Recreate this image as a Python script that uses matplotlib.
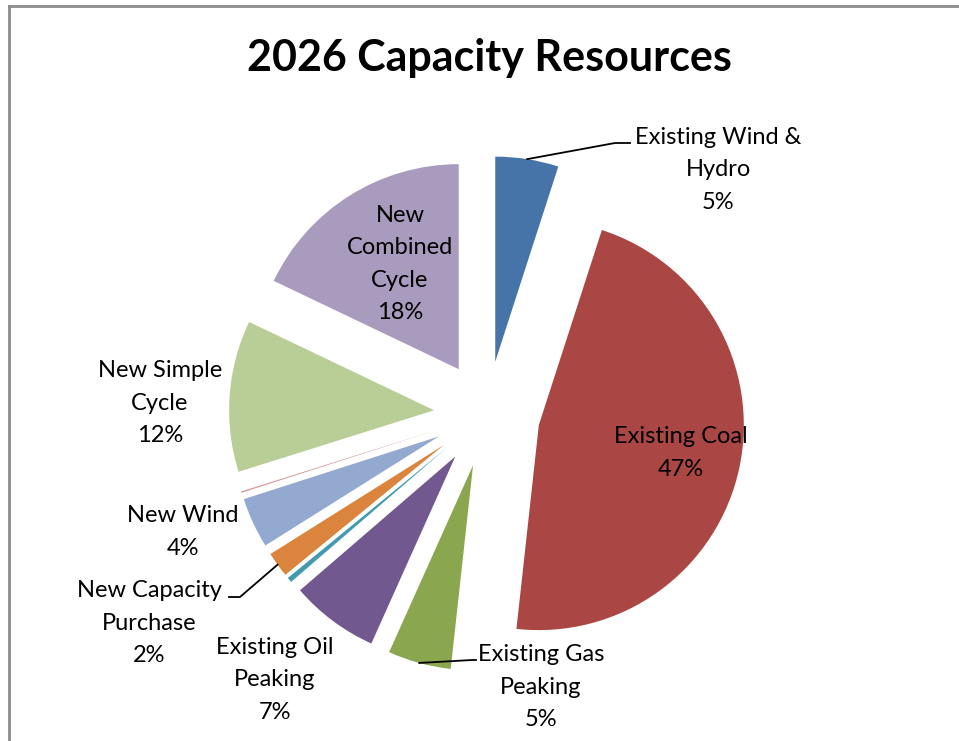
import numpy as np
import matplotlib.pyplot as plt

plt.rcParams['font.family'] = ['Lato', 'DejaVu Sans']

# capacity shares, clockwise from 12 o'clock
names = ['Existing Wind &\nHydro', 'Existing Coal', 'Existing Gas\nPeaking',
         'Existing Oil\nPeaking', 'Existing Other', 'New Capacity\nPurchase',
         'New Wind', 'New Other', 'New Simple\nCycle', 'New\nCombined\nCycle']
values = [5.0, 47.0, 5.0, 7.0, 0.4, 2.0, 4.0, 0.1, 12.0, 18.0]
colors = ['#4674A9', '#AA4744', '#8AA64F', '#71588F', '#4299B0', '#DB843D',
          '#93A9CF', '#D19392', '#B9CD96', '#A99BBD']
show_label = [True, True, True, True, False, True, True, False, True, True]

W, H = 959, 741
fig = plt.figure(figsize=(W / 100, H / 100), dpi=100)
ax = fig.add_axes([0, 0, 1, 1])

R = 205
cx, cy = 487, H - 414
wedges, _ = ax.pie(values, colors=colors, startangle=90, counterclock=False,
                   explode=[53] * len(values), radius=R, center=(cx, cy),
                   wedgeprops=dict(linewidth=0))
ax.set_xlim(0, W)
ax.set_ylim(0, H)
ax.set_aspect('equal')
ax.axis('off')

total = sum(values)
pct = [f'{v / total * 100:.0f}%' for v in values]

# label positions in pixels (x, y from top), optional leader elbow
lab_pos = {0: (718, 170), 1: (681, 453), 2: (541, 687), 3: (275, 680),
           5: (149, 623), 6: (183, 532), 8: (160, 403), 9: (400, 264)}
leaders = {0: [(615, 143), (630, 143)],
           2: [(472, 660), (476, 660)],
           5: [(240, 597), (229, 597)]}

for i, w in enumerate(wedges):
    if not show_label[i]:
        continue
    x, y = lab_pos[i]
    ax.text(x, H - y, names[i] + '\n' + pct[i], ha='center', va='center',
            fontsize=17, linespacing=1.65, color='black')
    if i in leaders:
        mid = np.deg2rad((w.theta1 + w.theta2) / 2)
        wx, wy = w.center
        pts = [(wx + w.r * np.cos(mid), wy + w.r * np.sin(mid))]
        pts += [(px, H - py) for px, py in leaders[i]]
        pts = np.array(pts)
        ax.plot(pts[:, 0], pts[:, 1], color='black', lw=1.3)

ax.text(489, H - 58, '2026 Capacity Resources', ha='center', va='center',
        fontsize=31, fontweight='bold')

# chart frame
fig.add_artist(plt.Line2D([8.5 / W, 1], [1 - 5.5 / H, 1 - 5.5 / H],
                          color='#8c8c8c', lw=2, transform=fig.transFigure))
fig.add_artist(plt.Line2D([8.5 / W, 8.5 / W], [0, 1 - 5.5 / H],
                          color='#8c8c8c', lw=2, transform=fig.transFigure))

fig.savefig('out.png', dpi=100)
